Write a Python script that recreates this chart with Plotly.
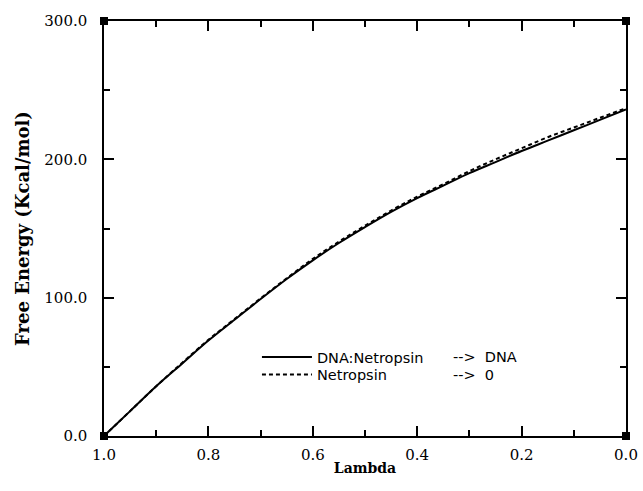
import plotly.graph_objects as go

lam = [1.0, 0.95, 0.9, 0.85, 0.8, 0.75, 0.7, 0.65, 0.6, 0.55, 0.5,
       0.45, 0.4, 0.35, 0.3, 0.25, 0.2, 0.15, 0.1, 0.05, 0.0]
complex_dg = [0, 18, 36, 52.5, 69, 84, 99, 113.5, 127, 139.5, 151,
              162, 172, 181, 190, 198, 206, 213.5, 221, 228.5, 236]
ligand_dg = [0, 18, 36, 53, 69.5, 84.5, 99.5, 114, 128, 140.5, 152,
             163, 173, 182, 191.5, 200, 208, 216, 223, 230, 237]

name1 = "DNA:Netropsin"
name2 = "Netropsin"
arrow1 = "-->  DNA"
arrow2 = "-->  0"

fig = go.Figure()
fig.add_trace(go.Scatter(x=lam, y=complex_dg, mode="lines", name=name1,
                         line=dict(color="black", width=2, shape="spline"),
                         legend="legend"))
fig.add_trace(go.Scatter(x=lam, y=ligand_dg, mode="lines", name=name2,
                         line=dict(color="black", width=2, dash="4px,3px", shape="spline"),
                         legend="legend2"))

legfont = dict(family="DejaVu Sans", size=14.5, color="black")
row1_y = 0.19
row2_y = 0.148
leg_x = 0.293
fig.update_layout(
    width=643, height=491,
    margin=dict(l=104, r=17, t=21, b=55),
    paper_bgcolor="white", plot_bgcolor="white",
    showlegend=True,
    legend=dict(x=leg_x, y=row1_y, xanchor="left", yanchor="middle",
                font=legfont, bgcolor="rgba(0,0,0,0)", itemwidth=50),
    legend2=dict(x=leg_x, y=row2_y, xanchor="left", yanchor="middle",
                 font=legfont, bgcolor="rgba(0,0,0,0)", itemwidth=50),
)

tickfont = dict(family="DejaVu Serif", size=15, color="black")
titlefont = dict(family="DejaVu Serif", size=18, color="black", weight="bold")

fig.update_xaxes(range=[1.0, 0.0], tickvals=[1.0, 0.8, 0.6, 0.4, 0.2, 0.0],
                 tickformat=".1f", ticks="inside", ticklen=10, tickwidth=1.5,
                 tickcolor="black", mirror="ticks", showline=True,
                 linecolor="black", linewidth=1.5, showgrid=False, zeroline=False,
                 tickfont=tickfont, automargin=False, ticklabelstandoff=4,
                 minor=dict(dtick=0.1, ticks="inside", ticklen=6, tickwidth=1.5,
                            tickcolor="black", showgrid=False),
                 title=dict(text="Lambda", font=dict(family="DejaVu Serif", size=14,
                                                     color="black", weight="bold"),
                            standoff=0))
fig.update_yaxes(range=[0, 300], tickvals=[0, 100, 200, 300],
                 tickformat=".1f", ticks="inside", ticklen=10, tickwidth=1.5,
                 tickcolor="black", mirror="ticks", showline=True,
                 linecolor="black", linewidth=1.5, showgrid=False, zeroline=False,
                 tickfont=tickfont, automargin=False, ticklabelstandoff=12,
                 minor=dict(dtick=50, ticks="inside", ticklen=6, tickwidth=1.5,
                            tickcolor="black", showgrid=False),
                 title=dict(text="Free Energy (Kcal/mol)", font=titlefont, standoff=10))

for ax, ay in [(0, 0), (1, 0), (0, 1), (1, 1)]:
    fig.add_shape(type="rect", xref="paper", yref="paper",
                  xsizemode="pixel", ysizemode="pixel", xanchor=ax, yanchor=ay,
                  x0=-4, x1=4, y0=-4, y1=4, fillcolor="black", line=dict(width=0))

fig.add_annotation(text=arrow1, xref="paper", yref="paper", x=0.665, y=row1_y,
                   xanchor="left", yanchor="middle", showarrow=False, font=legfont)
fig.add_annotation(text=arrow2, xref="paper", yref="paper", x=0.665, y=row2_y,
                   xanchor="left", yanchor="middle", showarrow=False, font=legfont)

fig.write_html("out.html", config={"displayModeBar": False},
               post_script="document.body.style.margin='0px';")
